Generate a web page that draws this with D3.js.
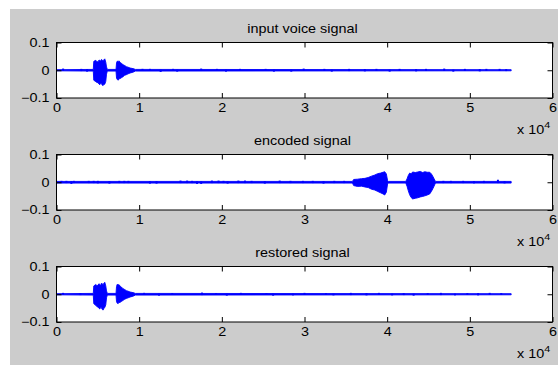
<!DOCTYPE html>
<html>
<head>
<meta charset="utf-8">
<script src="https://cdn.jsdelivr.net/npm/d3@7"></script>
<style>
  body { margin: 0; background: #fff; }
  svg text { font-family: "Liberation Sans", Arial, sans-serif; fill: #000; }
</style>
</head>
<body>
<div id="vis"></div>
<script>
"use strict";
const [width, height] = [558, 365];

// tick values (x axis in units of 10^4 samples)
const xTicks = [0, 1, 2, 3, 4, 5, 6];
const yTicks = [-0.1, 0, 0.1];
const titles = ["input voice signal", "encoded signal", "restored signal"];

// envelopes: [sample, upper, lower]
const inputEnv = [
  [0, 0.002, -0.002], [4450, 0.003, -0.003], [4510, 0.032, -0.036], [4750, 0.036, -0.041],
  [4900, 0.030, -0.044], [5030, 0.031, -0.045], [5150, 0.037, -0.050], [5240, 0.035, -0.052],
  [5350, 0.033, -0.047], [5440, 0.039, -0.048], [5540, 0.036, -0.054], [5640, 0.034, -0.055],
  [5740, 0.038, -0.051], [5840, 0.041, -0.050], [5960, 0.029, -0.040], [6050, 0.012, -0.014],
  [6150, 0.003, -0.003], [7200, 0.003, -0.003], [7260, 0.026, -0.028], [7350, 0.033, -0.033],
  [7450, 0.031, -0.036], [7550, 0.034, -0.031], [7700, 0.028, -0.030], [7850, 0.025, -0.027],
  [8050, 0.020, -0.023], [8250, 0.017, -0.018], [8450, 0.013, -0.016], [8650, 0.011, -0.013],
  [8900, 0.008, -0.010], [9250, 0.006, -0.007], [9550, 0.003, -0.003], [55000, 0.002, -0.002]
];
const encodedEnv = [
  [0, 0.003, -0.003], [35800, 0.003, -0.003], [35950, 0.010, -0.012], [36400, 0.011, -0.015],
  [36900, 0.013, -0.014], [37300, 0.014, -0.017], [37700, 0.017, -0.019], [38100, 0.022, -0.025],
  [38500, 0.026, -0.028], [38850, 0.031, -0.033], [39200, 0.033, -0.038], [39500, 0.036, -0.042],
  [39700, 0.038, -0.046], [39900, 0.030, -0.036], [40050, 0.006, -0.006], [40150, 0.003, -0.003],
  [42250, 0.003, -0.003], [42400, 0.012, -0.014], [42550, 0.024, -0.030], [42720, 0.033, -0.045],
  [42900, 0.030, -0.055], [43080, 0.037, -0.060], [43400, 0.035, -0.058], [43700, 0.037, -0.056],
  [44000, 0.039, -0.053], [44300, 0.035, -0.051], [44550, 0.038, -0.049], [44850, 0.036, -0.046],
  [45150, 0.036, -0.042], [45350, 0.030, -0.033], [45550, 0.020, -0.022], [45750, 0.008, -0.009],
  [45850, 0.003, -0.003], [55000, 0.003, -0.003]
];
const restoredEnv = [
  [0, 0.002, -0.002], [4450, 0.003, -0.003], [4510, 0.030, -0.034], [4750, 0.035, -0.040],
  [4900, 0.031, -0.045], [5030, 0.033, -0.046], [5150, 0.038, -0.051], [5240, 0.034, -0.053],
  [5350, 0.032, -0.048], [5440, 0.040, -0.049], [5540, 0.037, -0.055], [5640, 0.035, -0.057],
  [5740, 0.040, -0.050], [5840, 0.043, -0.048], [5960, 0.030, -0.038], [6050, 0.012, -0.013],
  [6150, 0.003, -0.003], [7200, 0.003, -0.003], [7260, 0.028, -0.027], [7350, 0.036, -0.032],
  [7450, 0.033, -0.034], [7550, 0.035, -0.030], [7700, 0.029, -0.029], [7850, 0.026, -0.026],
  [8050, 0.020, -0.022], [8250, 0.017, -0.018], [8450, 0.013, -0.015], [8650, 0.011, -0.013],
  [8900, 0.008, -0.010], [9250, 0.006, -0.007], [9550, 0.003, -0.003], [55000, 0.002, -0.002]
];

// small noise blips on the baseline: [sample, upper, lower]
const inputBlips = [
  [800, 0.006, -0.002], [3000, 0.005, -0.003], [3700, 0.004, -0.005], [10400, 0.005, -0.002],
  [11300, 0.005, -0.002], [12600, 0.002, -0.006], [14100, 0.005, -0.002], [14600, 0.002, -0.005],
  [17500, 0.006, -0.002], [19400, 0.005, -0.002], [20500, 0.002, -0.005], [22200, 0.005, -0.002],
  [25300, 0.005, -0.002], [26300, 0.002, -0.005], [28400, 0.002, -0.005], [29900, 0.006, -0.002],
  [32400, 0.005, -0.002], [33300, 0.002, -0.005], [35400, 0.005, -0.003], [37300, 0.004, -0.004],
  [38700, 0.005, -0.002], [40300, 0.002, -0.005], [41500, 0.005, -0.002], [43500, 0.004, -0.004],
  [44700, 0.005, -0.002], [46900, 0.006, -0.002], [48000, 0.002, -0.005], [49400, 0.005, -0.002],
  [51200, 0.004, -0.004], [52000, 0.005, -0.002], [53600, 0.005, -0.002], [54400, 0.004, -0.003]
];
const encodedBlips = [
  [600, 0.005, -0.003], [1200, 0.005, -0.003], [1800, 0.004, -0.006], [2100, 0.005, -0.003],
  [3900, 0.005, -0.003], [4500, 0.005, -0.003], [5000, 0.005, -0.004], [6400, 0.004, -0.005],
  [7600, 0.005, -0.003], [8200, 0.005, -0.003], [8700, 0.005, -0.003], [11300, 0.004, -0.005],
  [12100, 0.004, -0.005], [15000, 0.006, -0.003], [15800, 0.006, -0.003], [16400, 0.005, -0.003],
  [17000, 0.003, -0.006], [17500, 0.003, -0.006], [18800, 0.006, -0.003], [19600, 0.006, -0.003],
  [20200, 0.005, -0.003], [20700, 0.003, -0.005], [22000, 0.006, -0.003], [22800, 0.006, -0.003],
  [23600, 0.005, -0.003], [25200, 0.004, -0.005], [27000, 0.006, -0.003], [28300, 0.005, -0.003],
  [29800, 0.005, -0.003], [31000, 0.005, -0.003], [32300, 0.004, -0.005], [33600, 0.005, -0.003],
  [34800, 0.005, -0.003], [46800, 0.005, -0.003], [47700, 0.005, -0.003], [49200, 0.005, -0.003],
  [50500, 0.004, -0.004], [51700, 0.005, -0.003], [53400, 0.009, -0.003], [54200, 0.004, -0.004]
];
const restoredBlips = [
  [800, 0.005, -0.002], [2900, 0.004, -0.003], [10600, 0.005, -0.002], [12400, 0.002, -0.005],
  [14000, 0.004, -0.002], [17600, 0.006, -0.003], [19300, 0.004, -0.002], [20600, 0.002, -0.005],
  [22300, 0.005, -0.002], [25400, 0.004, -0.002], [26200, 0.002, -0.005], [28600, 0.002, -0.004],
  [30000, 0.005, -0.002], [32600, 0.004, -0.002], [33500, 0.002, -0.004], [35600, 0.005, -0.003],
  [37500, 0.004, -0.004], [39000, 0.005, -0.002], [40600, 0.002, -0.004], [42000, 0.004, -0.003],
  [43200, 0.002, -0.005], [44900, 0.004, -0.002], [46500, 0.005, -0.003], [48200, 0.002, -0.004],
  [49700, 0.004, -0.002], [51000, 0.004, -0.004], [52400, 0.005, -0.002], [53800, 0.004, -0.002]
];

const panels = [
  {title: titles[0], env: inputEnv, blips: inputBlips},
  {title: titles[1], env: encodedEnv, blips: encodedBlips},
  {title: titles[2], env: restoredEnv, blips: restoredBlips}
];

const SX = 1.2;            // figure was stretched sideways
const [x0, x1] = [56.5, 552.5];
const tops = [42.5, 154.5, 266.5];
const ph = 55.5;
const blue = "#0000ff";

const svg = d3.select('#vis').append('svg')
  .attr('width', width).attr('height', height)
  .attr('viewBox', [0, 0, width, height]);

svg.append('rect')
  .attr('x', 10).attr('y', 9)
  .attr('width', width - 10).attr('height', height - 9)
  .attr('fill', '#cccccc');

const xScale = d3.scaleLinear().domain([0, 60000]).range([x0, x1]);

panels.forEach((p, i) => {
  const top = tops[i], bottom = top + ph;
  const yScale = d3.scaleLinear().domain([-0.1, 0.1]).range([bottom, top]);
  const g = svg.append('g');

  g.append('rect')
    .attr('x', x0).attr('y', top)
    .attr('width', x1 - x0).attr('height', ph)
    .attr('fill', '#fff');

  const area = d3.area()
    .x(d => xScale(d[0]))
    .y0(d => yScale(d[2]))
    .y1(d => yScale(d[1]));
  g.append('path')
    .datum(p.env)
    .attr('d', area)
    .attr('fill', blue)
    .attr('stroke', blue)
    .attr('stroke-width', 0.9);

  g.selectAll('line.blip')
    .data(p.blips)
    .join('line')
      .attr('class', 'blip')
      .attr('x1', d => xScale(d[0])).attr('x2', d => xScale(d[0]))
      .attr('y1', d => yScale(d[1])).attr('y2', d => yScale(d[2]))
      .attr('stroke', blue)
      .attr('stroke-width', 2);

  // axes, ticks pointing inward like matlab
  const xs = xScale.copy().domain([0, 6]);
  const fix = sel => {
    sel.select('.domain').remove();
    sel.selectAll('line').attr('stroke', '#000');
    sel.selectAll('text').attr('font-size', 12);
  };
  g.append('g').attr('transform', `translate(0,${bottom})`)
    .call(d3.axisBottom(xs).tickValues(xTicks).tickFormat(d3.format('d')).tickSize(-5).tickPadding(5.5))
    .call(fix)
    .call(s => s.selectAll('text').attr('transform', `scale(${SX},1)`));
  g.append('g').attr('transform', `translate(0,${top})`)
    .call(d3.axisTop(xs).tickValues(xTicks).tickFormat('').tickSize(-5))
    .call(fix);
  g.append('g').attr('transform', `translate(${x0},0)`)
    .call(d3.axisLeft(yScale).tickValues(yTicks).tickFormat(d => d === 0 ? '0' : d3.format('.1f')(d)).tickSize(-5).tickPadding(7))
    .call(fix)
    .call(s => s.selectAll('text')
      .attr('x', -7 / SX)
      .attr('transform', `scale(${SX},1)`));
  g.append('g').attr('transform', `translate(${x1},0)`)
    .call(d3.axisRight(yScale).tickValues(yTicks).tickFormat('').tickSize(-5))
    .call(fix);

  g.append('rect')
    .attr('x', x0).attr('y', top)
    .attr('width', x1 - x0).attr('height', ph)
    .attr('fill', 'none').attr('stroke', '#000');

  g.append('text')
    .attr('transform', `translate(${(x0 + x1) / 2 - 2},${top - 9.5}) scale(${SX},1)`)
    .attr('text-anchor', 'middle')
    .attr('font-size', 12)
    .text(p.title);

  const ex = g.append('text')
    .attr('transform', `translate(517,${bottom + 35.5}) scale(${SX},1)`)
    .attr('font-size', 12);
  ex.append('tspan').text('x 10');
  ex.append('tspan').attr('dy', -6).attr('font-size', 9).text('4');
});
</script>
</body>
</html>
